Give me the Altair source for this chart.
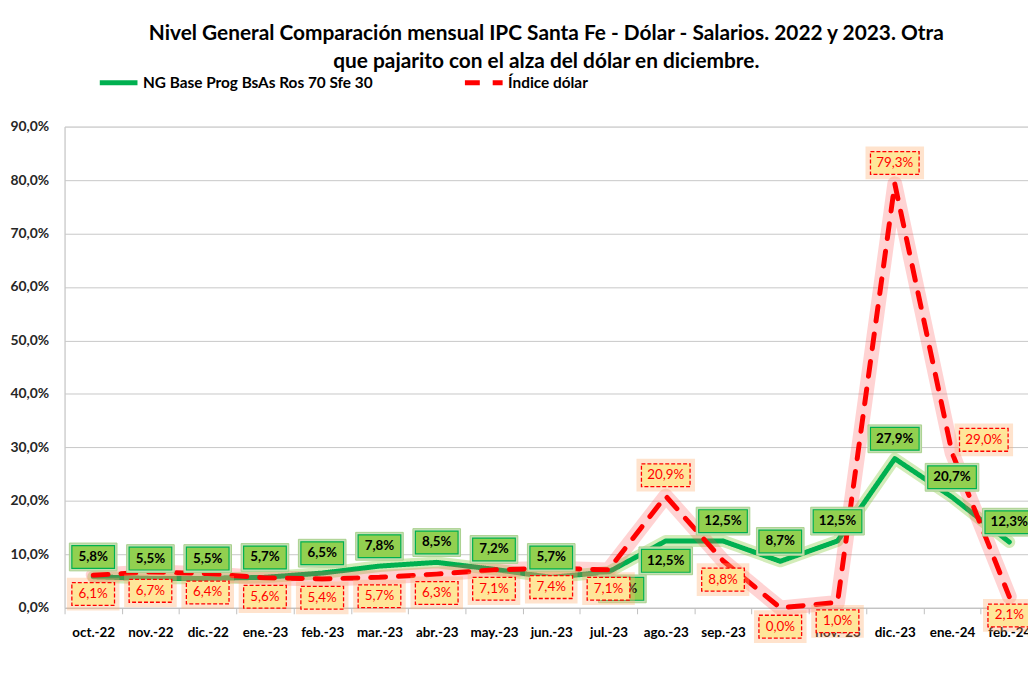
import altair as alt
import pandas as pd

# ---------------- data ----------------
months = ["oct.-22", "nov.-22", "dic.-22", "ene.-23", "feb.-23", "mar.-23", "abr.-23",
          "may.-23", "jun.-23", "jul.-23", "ago.-23", "sep.-23", "oct.-23", "nov.-23",
          "dic.-23", "ene.-24", "feb.-24"]
ng_values = [5.8, 5.5, 5.5, 5.7, 6.5, 7.8, 8.5, 7.2, 5.7, 6.7, 12.5, 12.5, 8.7, 12.5, 27.9, 20.7, 12.3]
dolar_values = [6.1, 6.7, 6.4, 5.6, 5.4, 5.7, 6.3, 7.1, 7.4, 7.1, 20.9, 8.8, 0.0, 1.0, 79.3, 29.0, 2.1]
# data-label placement (as in the original spreadsheet)
ng_label_place = ["above"] * 9 + ["right_below", "below"] + ["above"] * 6
dolar_label_place = ["below"] * 10 + ["above", "below", "below", "below", "above", "right", "below"]

SERIES_NG = "NG Base Prog BsAs Ros 70 Sfe 30"
SERIES_USD = "Índice dólar"
y_ticks = [0, 10, 20, 30, 40, 50, 60, 70, 80, 90]

title_lines = ["Nivel General Comparación mensual IPC Santa Fe - Dólar - Salarios.  2022 y 2023. Otra",
               "que pajarito con el alza del dólar en diciembre."]

rows = []
for m, v, p in zip(months, ng_values, ng_label_place):
    rows.append({"month": m, "series": SERIES_NG, "value": v, "place": p})
for m, v, p in zip(months, dolar_values, dolar_label_place):
    rows.append({"month": m, "series": SERIES_USD, "value": v, "place": p})
df = pd.DataFrame(rows)

# ---------------- styling ----------------
FONT = "Lato"
GREEN = "#00B050"
RED = "#FF0000"
PLOT_W = 971
RANGE_W = 981  # the last month runs past the page edge, as in the reference (clipped)

OFFSETS = {
    SERIES_NG: {"above": (0, -20), "below": (0, 20), "right_below": (14, 17)},
    SERIES_USD: {"above": (0, -21), "below": (0, 19), "right": (32, -13)},
}

x_enc = alt.X(
    "month:N", sort=months,
    scale=alt.Scale(type="band", domain=months, paddingInner=0, paddingOuter=0, round=False,
                    range=[0, RANGE_W]),
    axis=alt.Axis(title=None, labelAngle=0, tickBand="extent", ticks=True, tickSize=6,
                  tickColor="#BFBFBF", domainColor="#BFBFBF", labelFont=FONT, labelFontSize=13.5,
                  labelFontWeight="bold", labelColor="#000000", labelPadding=12, grid=False),
)
y_enc = alt.Y(
    "value:Q", scale=alt.Scale(domain=[0, 90], nice=False, zero=True),
    axis=alt.Axis(title=None, values=y_ticks, grid=True, gridColor="#C8C8C8", domain=True,
                  domainColor="#C8C8C8", ticks=False, labelPadding=16, labelFont=FONT,
                  labelFontSize=14, labelFontWeight="bold", labelColor="#262626",
                  labelExpr="replace(format(datum.value, '.1f'), '.', ',') + '%'"),
)

legend = alt.Legend(orient="none", legendX=33, legendY=-66, direction="horizontal", title=None,
                    symbolType="stroke", symbolSize=1444, symbolStrokeWidth=5, labelFont=FONT,
                    labelFontSize=15.5, labelFontWeight="bold", labelColor="#000000", labelLimit=400,
                    columnPadding=82, labelOffset=3, padding=0)
color_enc = alt.Color("series:N", scale=alt.Scale(domain=[SERIES_NG, SERIES_USD], range=[GREEN, RED]),
                      legend=legend)
dash_enc = alt.StrokeDash("series:N", scale=alt.Scale(domain=[SERIES_NG, SERIES_USD],
                                                       range=[[1, 0], [15, 13]]), legend=legend)

base = alt.Chart(df).transform_calculate(
    label="replace(format(datum.value, '.1f'), '.', ',') + '%'"
).transform_calculate(
    w="length(datum.label) > 4 ? 49 : 43"
)


def only(series):
    return base.transform_filter(f"datum.series == '{series}'")


def line_glow(series, color, width, opacity):
    return only(series).mark_line(color=color, strokeWidth=width, opacity=opacity,
                                  strokeCap="round", strokeJoin="round").encode(x=x_enc, y=y_enc)


def main_line(series):
    return only(series).mark_line(strokeWidth=5, strokeCap="round", strokeJoin="round").encode(
        x=x_enc, y=y_enc, color=color_enc, strokeDash=dash_enc)


def boxes(series, place, pad, height, **props):
    dx, dy = OFFSETS[series][place]
    return base.transform_filter(
        f"datum.series == '{series}' && datum.place == '{place}'"
    ).transform_calculate(
        bw=f"datum.w + {pad}"
    ).transform_calculate(
        sz="datum.bw * datum.bw",
        shp=f"'M-1,' + (-{height + pad}/datum.bw) + 'L1,' + (-{height + pad}/datum.bw) + 'L1,' + ({height + pad}/datum.bw) + 'L-1,' + ({height + pad}/datum.bw) + 'Z'",
    ).mark_point(filled=True, xOffset=dx, yOffset=dy, **props).encode(
        x=x_enc, y=y_enc,
        shape=alt.Shape("shp:N", scale=None, legend=None),
        size=alt.Size("sz:Q", scale=None, legend=None),
    )


def texts(series, place, **props):
    dx, dy = OFFSETS[series][place]
    return base.transform_filter(
        f"datum.series == '{series}' && datum.place == '{place}'"
    ).mark_text(dx=dx, dy=dy, font=FONT, fontSize=13.5, baseline="middle", align="center", **props).encode(
        x=x_enc, y=y_enc, text="label:N")


layers = [
    line_glow(SERIES_NG, "#92D050", 12, 0.4),
    main_line(SERIES_NG),
    line_glow(SERIES_USD, "#FF5050", 15, 0.25),
    main_line(SERIES_USD),
]
for place in OFFSETS[SERIES_NG]:
    layers.append(boxes(SERIES_NG, place, 5, 23, fill="#C5E0B4", opacity=1, stroke="#A9D18E", strokeWidth=1))
    layers.append(boxes(SERIES_NG, place, 0, 23, fill="#92D050", opacity=1, stroke=GREEN, strokeWidth=1.2))
    layers.append(texts(SERIES_NG, place, color="#000000", fontWeight="bold"))
for place in OFFSETS[SERIES_USD]:
    layers.append(boxes(SERIES_USD, place, 10, 23, fill="#FFB070", opacity=0.35))
    layers.append(boxes(SERIES_USD, place, 0, 23, fill="#FFE699", opacity=1, stroke=RED,
                        strokeWidth=1.3, strokeDash=[4, 2]))
    layers.append(texts(SERIES_USD, place, color=RED, fontWeight="normal"))

chart = alt.layer(*layers).properties(
    width=PLOT_W, height=485,
    autosize=alt.AutoSizeParams(type="none"),
    padding={"left": 57, "top": 117, "right": 0, "bottom": 40},
    title=alt.Title(text=title_lines, anchor="middle", font=FONT, fontSize=21, fontWeight="bold",
                    color="#000000", lineHeight=28, offset=-11),
).configure_view(stroke=None).configure(background="white")

chart.save("out.html", embed_options={"renderer": "svg", "actions": False})
